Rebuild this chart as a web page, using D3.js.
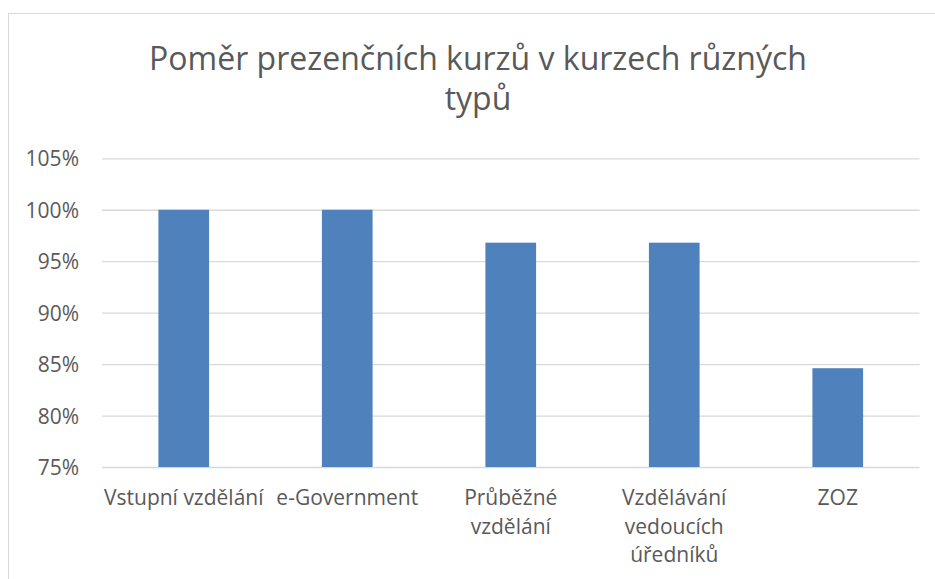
<!DOCTYPE html>
<html>
<head>
<meta charset="utf-8">
<script src="https://cdn.jsdelivr.net/npm/d3@7"></script>
<style>
    body { margin: 0; background: #fff; }
    text { font-family: "Open Sans", sans-serif; fill: #595959; }
</style>
</head>
<body>
<div class="container"></div>
<script>
let width = 935
let height = 579
let margin = {
    left: 102,
    right: 15.5,
    top: 158.3,
    bottom: 112
}
const titleLines = ['Poměr prezenčních kurzů v kurzech různých', 'typů']
const categories = ['Vstupní vzdělání', 'e-Government', 'Průběžné vzdělání', 'Vzdělávání vedoucích úředníků', 'ZOZ']
const shares = [1.0, 1.0, 0.968, 0.968, 0.846]
const yTicks = [0.75, 0.80, 0.85, 0.90, 0.95, 1.00, 1.05]

let svg = d3.select('.container')
    .append('svg')
    .attr('width', width)
    .attr('height', height)

// chart area frame (cut off at right and bottom)
svg.append('rect')
    .attr('x', 8.5)
    .attr('y', 13.5)
    .attr('width', 1000)
    .attr('height', 1000)
    .attr('fill', '#fff')
    .attr('stroke', '#d9d9d9')

svg.append('text')
    .attr('x', 478)
    .attr('y', 69.5)
    .attr('text-anchor', 'middle')
    .style('font-size', '32px')
    .selectAll('tspan')
    .data(titleLines)
    .enter()
    .append('tspan')
    .attr('x', 478)
    .attr('dy', (d, i) => i === 0 ? 0 : 40)
    .text((d) => d)

let xScale = d3.scaleBand()
    .domain(categories)
    .range([margin.left, width - margin.right])
    .paddingInner(0.69)
    .paddingOuter(0.345)

let yScale = d3.scaleLinear()
    .domain([0.75, 1.05])
    .range([height - margin.bottom, margin.top])

let yAxis = d3.axisLeft(yScale)
    .tickValues(yTicks)
    .tickFormat(d3.format('.0%'))
    .tickSize(-(width - margin.left - margin.right))
    .tickPadding(23)

let gy = svg.append('g')
    .attr('class', 'y axis')
    .attr('transform', `translate(${margin.left},0)`)
    .call(yAxis)
gy.select('.domain').remove()
gy.selectAll('line').attr('stroke', '#d9d9d9').attr('stroke-width', 1.3)
gy.selectAll('text').style('font-size', '21px').attr('dy', '0.36em')

svg.selectAll('rect.bar')
    .data(shares)
    .enter()
    .append('rect')
    .attr('class', 'bar')
    .attr('fill', '#4f81bd')
    .attr('x', (d, i) => xScale(categories[i]))
    .attr('width', xScale.bandwidth())
    .attr('y', (d) => yScale(d))
    .attr('height', (d) => yScale(0.75) - yScale(d))

let xAxis = d3.axisBottom(xScale)
    .tickSize(0)
    .tickPadding(38)

let gx = svg.append('g')
    .attr('class', 'x axis')
    .attr('transform', `translate(0,${height - margin.bottom})`)
    .call(xAxis)
gx.select('.domain').remove()

// wrap category labels into the category slot width, like Excel does
gx.selectAll('text')
    .style('font-size', '21px')
    .attr('dy', 0)
    .each(function (d) {
        let text = d3.select(this)
        let words = d.split(' ')
        let lines = []
        let line = []
        text.text(null)
        let probe = text.append('tspan')
        words.forEach((w) => {
            line.push(w)
            probe.text(line.join(' '))
            if (probe.node().getComputedTextLength() > xScale.step() + 2 && line.length > 1) {
                line.pop()
                lines.push(line.join(' '))
                line = [w]
            }
        })
        lines.push(line.join(' '))
        probe.remove()
        lines.forEach((l, i) => {
            text.append('tspan')
                .attr('x', 0)
                .attr('dy', i === 0 ? 0 : 28.5)
                .text(l)
        })
    })
</script>
</body>
</html>
